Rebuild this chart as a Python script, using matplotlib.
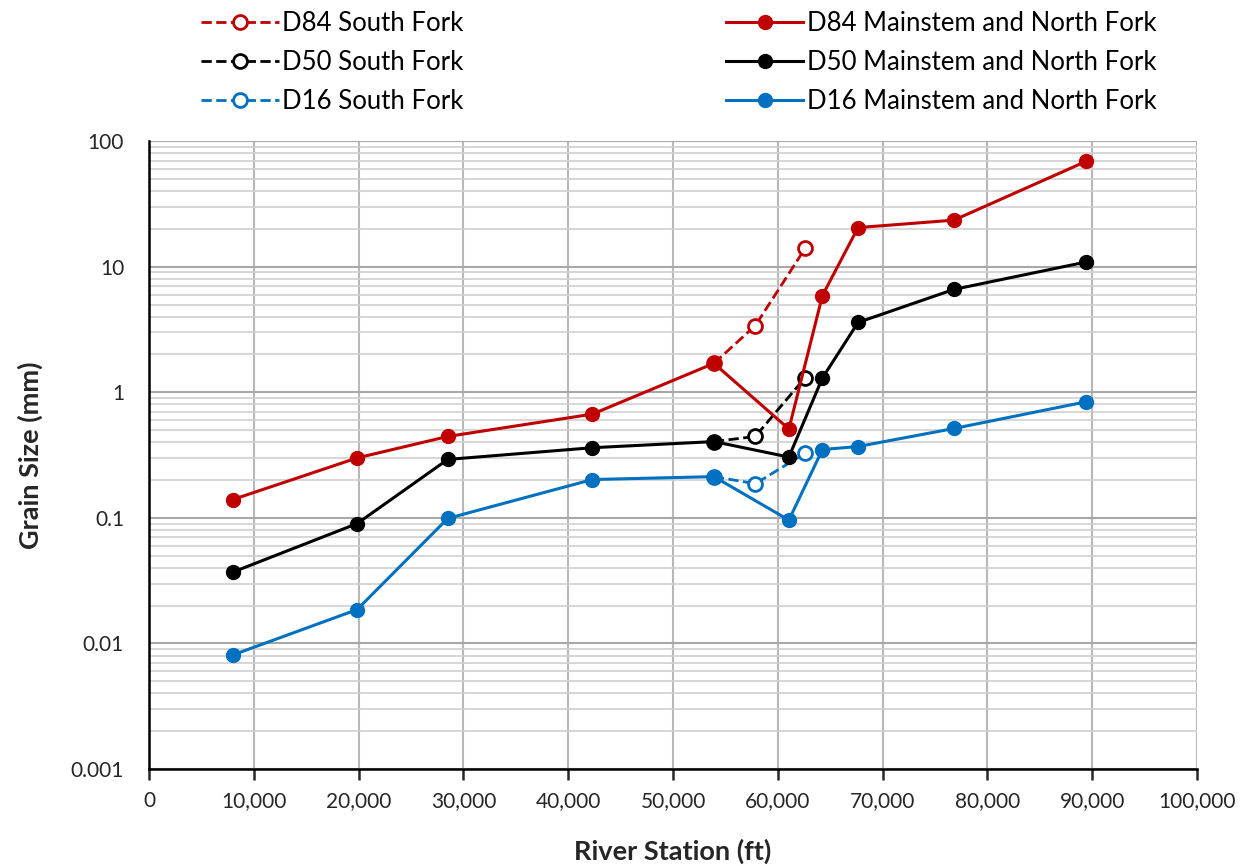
import matplotlib.pyplot as plt
from matplotlib.ticker import LogLocator, NullFormatter, FuncFormatter

plt.rcParams['font.family'] = ['Lato', 'DejaVu Sans']

# Mainstem and North Fork stations (ft)
station = [8000, 19850, 28500, 42300, 53900, 61050, 64250, 67650, 76800, 89400]
d84 = [0.14, 0.30, 0.445, 0.67, 1.70, 0.51, 5.9, 20.5, 23.5, 69]
d50 = [0.037, 0.090, 0.292, 0.362, 0.405, 0.305, 1.30, 3.6, 6.6, 10.9]
d16 = [0.0081, 0.0186, 0.099, 0.202, 0.213, 0.096, 0.350, 0.370, 0.515, 0.84]

# South Fork (starts at the junction point)
station_sf = [53900, 57850, 62600]
d84_sf = [1.70, 3.40, 14.0]
d50_sf = [0.405, 0.445, 1.31]
d16_sf = [0.213, 0.187, 0.327]

red = '#C00000'
black = '#000000'
blue = '#0070C0'

fig = plt.figure(figsize=(12.47, 8.66), dpi=100)
ax = fig.add_axes([0.1195, 0.112, 0.8405, 0.725])

# South Fork - dashed, open markers
h1, = ax.plot(station_sf, d84_sf, '--o', color=red, lw=2, ms=10, mfc='white', mew=2, label='D84 South Fork')
h2, = ax.plot(station_sf, d50_sf, '--o', color=black, lw=2, ms=10, mfc='white', mew=2, label='D50 South Fork')
h3, = ax.plot(station_sf, d16_sf, '--o', color=blue, lw=2, ms=10, mfc='white', mew=2, label='D16 South Fork')
# Mainstem - solid, filled markers
h4, = ax.plot(station, d84, '-o', color=red, lw=2.2, ms=10, label='D84 Mainstem and North Fork')
h5, = ax.plot(station, d50, '-o', color=black, lw=2.2, ms=10, label='D50 Mainstem and North Fork')
h6, = ax.plot(station, d16, '-o', color=blue, lw=2.2, ms=10, label='D16 Mainstem and North Fork')

ax.set_yscale('log')
ax.set_ylim(0.001, 100)
ax.set_xlim(0, 100000)
ax.set_xticks(range(0, 100001, 10000))
ax.xaxis.set_major_formatter(FuncFormatter(lambda v, p: f'{int(v):,}'))
ax.yaxis.set_major_locator(LogLocator(base=10, numticks=10))
ax.yaxis.set_minor_locator(LogLocator(base=10, subs=range(2, 10), numticks=10))
ax.yaxis.set_minor_formatter(NullFormatter())
ax.yaxis.set_major_formatter(FuncFormatter(lambda v, p: f'{v:g}'))

ax.grid(True, which='major', axis='x', color='#b8b8b8', lw=1.5)
ax.grid(True, which='major', axis='y', color='#a8a8a8', lw=1.5)
ax.grid(True, which='minor', axis='y', color='#d0d0d0', lw=1.2)
ax.set_axisbelow(True)

for s in ['top', 'right']:
    ax.spines[s].set_visible(False)
ax.spines['left'].set_linewidth(1.8)
ax.spines['bottom'].set_linewidth(1.8)
ax.tick_params(axis='x', which='major', direction='out', length=8, width=1.8, labelsize=15, pad=8, colors='#262626')
ax.tick_params(axis='y', which='both', length=0, labelsize=15, pad=18, colors='#262626')

ax.set_xlabel('River Station (ft)', fontsize=19.5, fontweight='bold', color='#262626', labelpad=20)
ax.set_ylabel('Grain Size (mm)', fontsize=19.5, fontweight='bold', color='#262626', labelpad=20)

fig.legend(handles=[h1, h2, h3, h4, h5, h6], ncol=2, frameon=False,
           loc='upper left', bbox_to_anchor=(0.143, 1.014), fontsize=18.5,
           handlelength=3.0, handletextpad=0.15, columnspacing=10.2, labelspacing=0.55)

fig.savefig('out.png', dpi=100)
